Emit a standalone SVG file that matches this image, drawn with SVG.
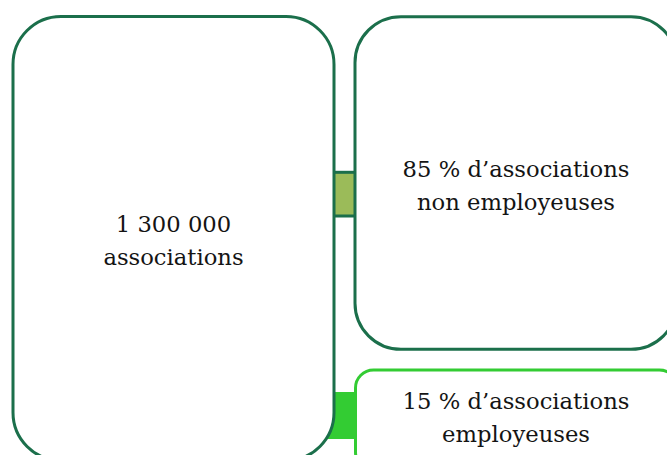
<svg xmlns="http://www.w3.org/2000/svg" width="667" height="455" viewBox="0 0 667 455">
<style>
.box{fill:#ffffff;stroke:#1B6F4B;stroke-width:3}
.box2{fill:#ffffff;stroke:#33CC33;stroke-width:3}
.lbl{font-family:"DejaVu Serif","Liberation Serif",serif;font-size:22.7px;fill:#141414;text-anchor:middle}
</style>
<rect width="667" height="455" fill="#ffffff"/>
<g id="connectors">
<rect x="330" y="172.3" width="28" height="43.7" fill="#9BBB59" stroke="#1B6F4B" stroke-width="3"/>
<rect x="300" y="392" width="58" height="47" fill="#33CC33"/>
</g>
<g id="node-total">
<rect class="box" x="13" y="16.5" width="321" height="444" rx="48" ry="48"/>
<text class="lbl" x="173.5" y="232.3">1 300 000</text>
<text class="lbl" x="173.5" y="265">associations</text>
</g>
<g id="node-non-employeuses">
<rect class="box" x="355" y="16.7" width="322" height="332.6" rx="46" ry="46"/>
<text class="lbl" x="516" y="176.7">85 % d’associations</text>
<text class="lbl" x="516" y="209.5">non employeuses</text>
</g>
<g id="node-employeuses">
<rect class="box2" x="355.5" y="370" width="322" height="100" rx="18" ry="18"/>
<text class="lbl" x="516" y="409.3">15 % d’associations</text>
<text class="lbl" x="516" y="441.7">employeuses</text>
</g>
</svg>
